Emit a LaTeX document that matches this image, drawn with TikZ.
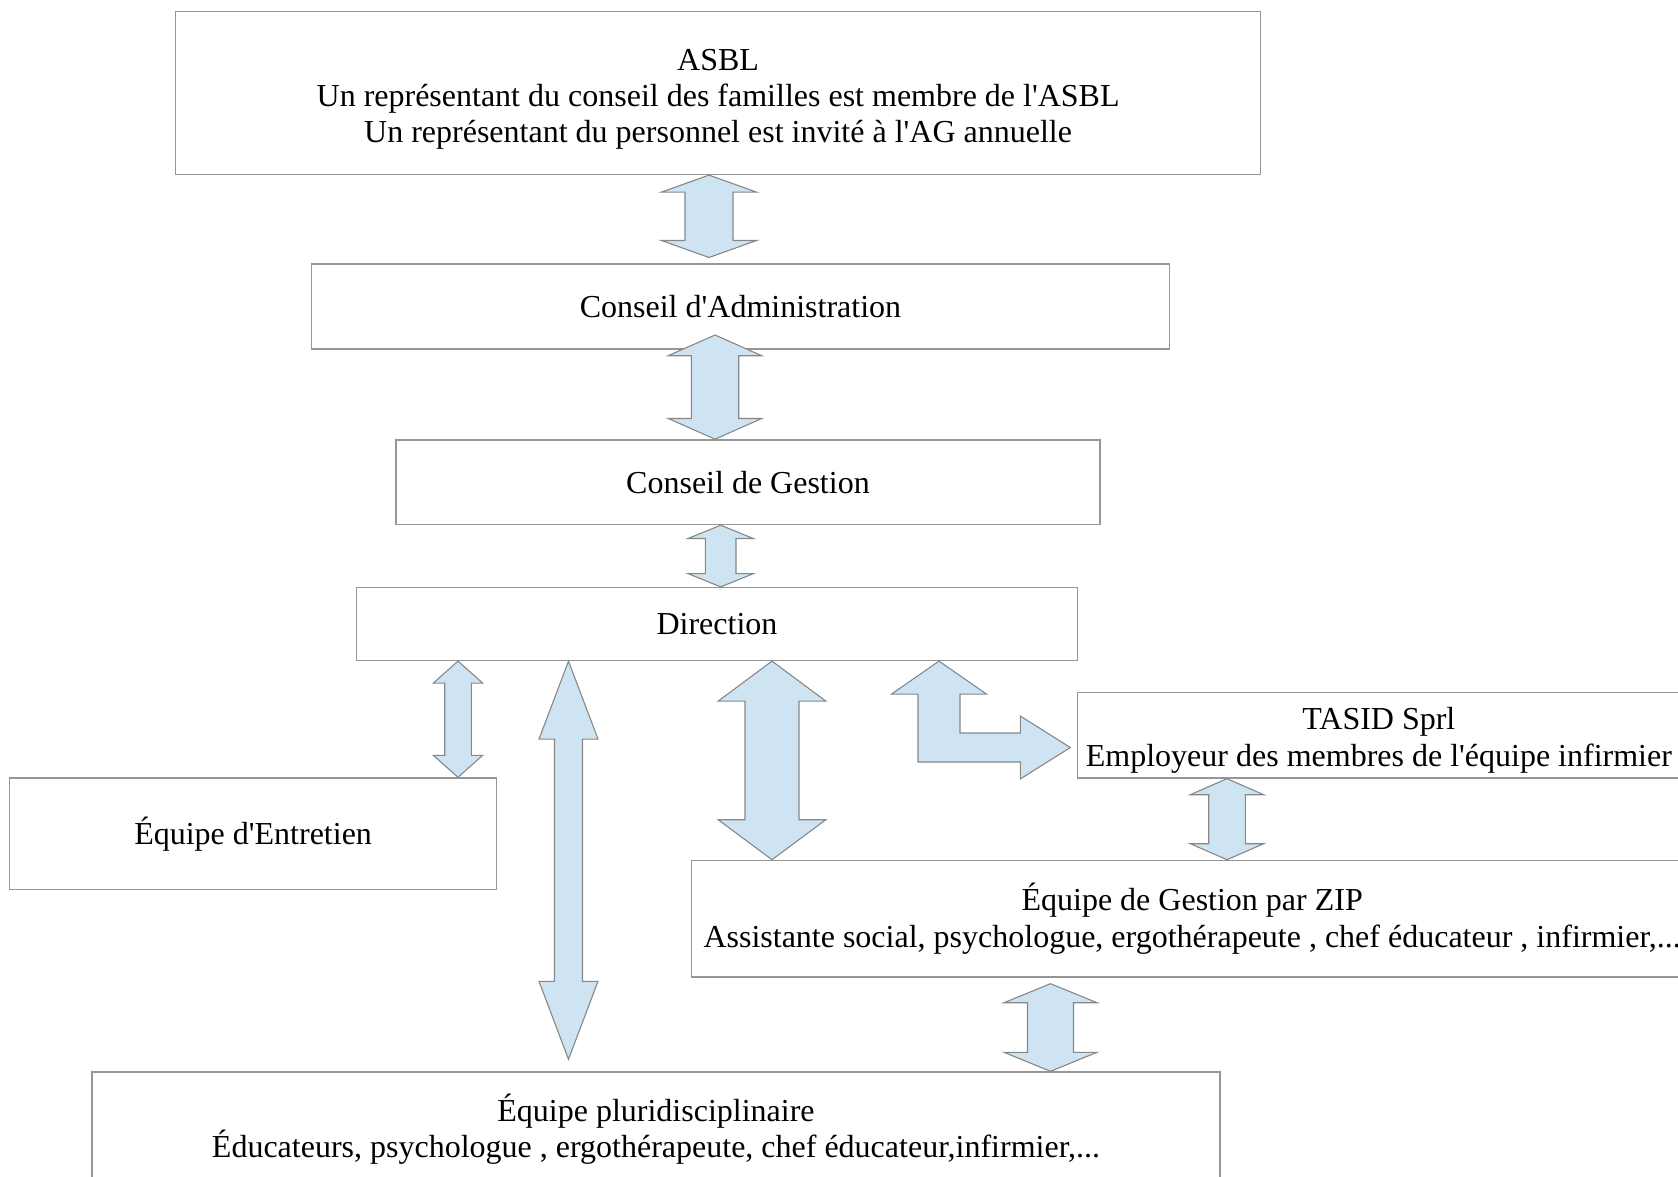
\documentclass[tikz,border=0pt]{standalone}
\usepackage{fontspec}
\setmainfont{Liberation Serif}[Ligatures=TeXOff]
\usetikzlibrary{calc}
\definecolor{boxgray}{RGB}{150,150,150}
\definecolor{arrowblue}{RGB}{207,228,242}
\definecolor{arrowgray}{RGB}{135,135,135}

% vertical double block arrow: top tip, bottom tip, head half width, shaft half width, head length
\newcommand{\vfatarrow}[5]{%
  \draw[fatarrow] (#1) -- ($(#1)+(#3,#5)$) -- ($(#1)+(#4,#5)$) -- ($(#2)+(#4,-#5)$)
    -- ($(#2)+(#3,-#5)$) -- (#2) -- ($(#2)+(-#3,-#5)$) -- ($(#2)+(-#4,-#5)$)
    -- ($(#1)+(-#4,#5)$) -- ($(#1)+(-#3,#5)$) -- cycle;}

\begin{document}
\begin{tikzpicture}[
  x=0.5pt, y=-0.5pt,
  box/.style={rectangle, draw=boxgray, line width=0.7pt, fill=white, align=center, inner sep=0pt, font=\fontsize{16}{18.2}\selectfont},
  fatarrow/.style={draw=arrowgray, fill=arrowblue, line width=0.55pt, line join=miter}
]
  \clip (0,0) rectangle (1678,1177);

  % Boxes
  \node[box, minimum width=542.6pt, minimum height=81.3pt, text height=53.3pt] (asbl) at (718.1,93.1)
    {ASBL\\Un représentant du conseil des familles est membre de l'ASBL\\Un représentant du personnel est invité à l'AG annuelle};
  \node[box, minimum width=429.2pt, minimum height=42.3pt] (cad) at (740.5,306.5) {Conseil d'Administration};
  \node[box, minimum width=352pt, minimum height=42.3pt] (cdg) at (748,482.2) {Conseil de Gestion};
  \node[box, minimum width=360.7pt, minimum height=36.4pt] (direction) at (717,624) {Direction};
  \node[box, minimum width=243.5pt, minimum height=55.7pt] (entretien) at (253.1,833.7) {Équipe d'Entretien};
  \node[box, minimum width=301.2pt, minimum height=42.8pt, text height=34.4pt] (tasid) at (1378.9,735.2)
    {TASID Sprl\\Employeur des membres de l'équipe infirmier};
  \node[box, minimum width=500.8pt, minimum height=58.3pt] (zip) at (1192.2,918.7)
    {Équipe de Gestion par ZIP\\Assistante social, psychologue, ergothérapeute , chef éducateur , infirmier,...};
  \node[box, minimum width=564pt, minimum height=57.5pt] (pluri) at (656,1129.5)
    {Équipe pluridisciplinaire\\Éducateurs, psychologue , ergothérapeute, chef éducateur,infirmier,...};

  % Arrow ends
  \coordinate (a1t) at (709,0 |- asbl.south);
  \coordinate (a1b) at ($(709,0 |- cad.north)+(0,-6)$);
  \coordinate (a2t) at ($(715,0 |- cad.south)+(0,-14.5)$);
  \coordinate (a2b) at (715,0 |- cdg.north);
  \coordinate (a3t) at (720.7,0 |- cdg.south);
  \coordinate (a3b) at (720.7,0 |- direction.north);
  \coordinate (a4t) at (458,0 |- direction.south);
  \coordinate (a4b) at (458,0 |- entretien.north);
  \coordinate (a5t) at (568.5,0 |- direction.south);
  \coordinate (a5b) at ($(568.5,0 |- pluri.north)+(0,-12)$);
  \coordinate (a6t) at (772,0 |- direction.south);
  \coordinate (a6b) at (772,0 |- zip.north);
  \coordinate (a7t) at (1227,0 |- tasid.south);
  \coordinate (a7b) at (1227,0 |- zip.north);
  \coordinate (a8t) at ($(1050.5,0 |- zip.south)+(0,6)$);
  \coordinate (a8b) at (1050.5,0 |- pluri.north);

  % Block arrows
  \vfatarrow{a1t}{a1b}{47.5}{24}{17}
  \vfatarrow{a2t}{a2b}{46.7}{23.7}{20.7}
  \vfatarrow{a3t}{a3b}{32.7}{15.3}{13.3}
  \vfatarrow{a4t}{a4b}{24.7}{13.3}{22}
  \vfatarrow{a5t}{a5b}{29.5}{14}{78}
  \vfatarrow{a6t}{a6b}{53.8}{27}{40}
  \vfatarrow{a7t}{a7b}{36.7}{18.3}{16}
  \vfatarrow{a8t}{a8b}{46.5}{23}{19}

  % Direction -- TASID
  \coordinate (lt) at (939,0 |- direction.south);
  \coordinate (lb) at ($(tasid.west)+(-6.7,12.3)$);
  \coordinate (lri) at ($(lt)+(21,0)$);
  \coordinate (lle) at ($(lt)+(-21,0)$);
  \coordinate (lhu) at ($(lb)+(-50,-14.5)$);
  \coordinate (lhd) at ($(lb)+(-50,14.5)$);
  \draw[fatarrow] (lt) -- ($(lt)+(47.5,33)$) -- ($(lt)+(21,33)$) -- (lri |- lhu) -- (lhu)
    -- ($(lb)+(-50,-31.5)$) -- (lb) -- ($(lb)+(-50,31.5)$) -- (lhd)
    -- (lle |- lhd) -- ($(lt)+(-21,33)$) -- ($(lt)+(-47.5,33)$) -- cycle;
\end{tikzpicture}
\end{document}
